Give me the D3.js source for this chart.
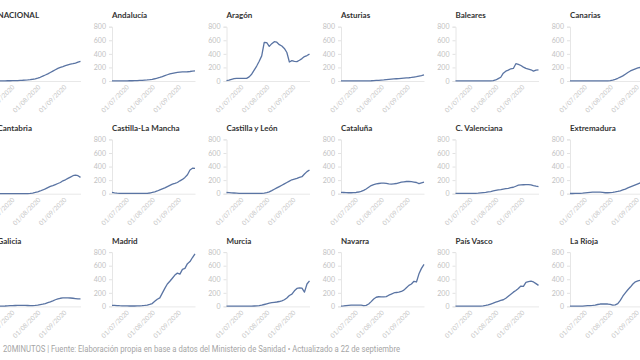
<!DOCTYPE html>
<html>
<head>
<meta charset="utf-8">
<script src="https://cdn.jsdelivr.net/npm/d3@7"></script>
<style>
body { margin: 0; background: #fff; overflow: hidden; }
svg { display: block; }
</style>
</head>
<body>
<svg id="chart" width="640" height="360"></svg>
<script>
// fechas de la serie (cada 3 dias)
const dates = ["2020-06-15","2020-06-18","2020-06-21","2020-06-24","2020-06-27","2020-06-30",
  "2020-07-03","2020-07-06","2020-07-09","2020-07-12","2020-07-15","2020-07-18","2020-07-21",
  "2020-07-24","2020-07-27","2020-07-30","2020-08-02","2020-08-05","2020-08-08","2020-08-11",
  "2020-08-14","2020-08-17","2020-08-20","2020-08-23","2020-08-26","2020-08-29","2020-09-01",
  "2020-09-04","2020-09-07","2020-09-10","2020-09-13","2020-09-16","2020-09-19","2020-09-22"]

const regions = ["NACIONAL","Andalucía","Aragón","Asturias","Baleares","Canarias",
  "Cantabria","Castilla-La Mancha","Castilla y León","Cataluña","C. Valenciana","Extremadura",
  "Galicia","Madrid","Murcia","Navarra","País Vasco","La Rioja"]

const nacional = [3,3,3,3,4,4,5,6,7,9,11,14,17,21,26,32,42,55,72,88,105,125,145,165,185,200,212,225,238,248,255,265,278,290]
const andalucia = [3,3,3,3,3,3,3,4,4,5,6,8,10,13,16,20,25,33,42,52,64,78,92,104,112,120,127,131,133,134,136,140,146,150]
const aragon = [5,12,25,35,38,40,40,38,38,60,100,160,220,290,370,570,565,510,550,580,572,535,515,480,420,280,300,290,285,305,330,360,375,395]
const asturias = [2,2,2,2,2,2,2,2,2,2,2,3,4,6,8,10,13,16,20,24,27,30,33,36,39,42,45,48,52,58,64,72,80,90]
const baleares = [3,3,3,3,3,3,3,3,3,3,3,3,3,3,3,6,15,35,55,115,145,160,180,185,255,245,228,205,185,175,165,145,160,165]
const canarias = [3,3,3,3,3,3,3,3,3,3,3,3,3,3,3,3,5,12,25,40,58,75,100,125,148,165,180,192,200,210,220,230,240,250]
const cantabria = [2,2,2,2,2,2,2,2,2,2,2,2,2,5,10,18,28,40,55,72,90,108,120,135,150,165,190,205,225,245,265,275,265,240]
const castillaLaMancha = [18,12,8,6,5,5,5,5,5,5,5,5,5,5,6,10,18,28,40,55,70,85,105,122,140,152,165,190,210,240,280,350,375,372]
const castillaLeon = [18,15,12,10,8,6,5,5,5,4,4,4,4,4,4,8,15,28,45,65,85,105,125,145,165,185,205,215,225,240,250,290,325,350]
const cataluna = [20,18,15,14,14,15,18,25,35,50,70,95,120,135,145,150,155,155,152,145,140,145,150,160,170,175,180,182,178,172,165,148,160,170]
const valenciana = [5,5,5,5,5,5,5,5,5,8,12,16,20,26,32,40,48,55,60,68,75,80,88,95,110,125,130,132,133,135,130,120,112,105]
const extremadura = [3,3,4,5,6,8,12,16,20,22,24,24,22,18,14,14,16,20,26,33,42,55,68,85,100,115,130,145,160,175,190,205,215,225]
const galicia = [4,4,5,6,8,10,12,13,14,15,15,14,13,12,12,14,18,25,32,42,55,68,82,98,110,120,125,126,126,124,120,115,110,112]
const madrid = [15,14,12,10,9,8,7,6,6,6,7,8,10,14,20,30,42,75,105,125,195,265,330,370,415,462,490,475,545,560,630,660,720,775]
const murcia = [3,3,3,3,3,3,3,3,3,3,4,6,8,12,18,28,38,48,55,60,65,72,82,98,125,160,180,230,265,272,270,210,330,375]
const navarra = [5,8,12,15,18,20,20,20,18,12,15,35,70,110,135,142,140,140,145,165,180,198,205,210,220,240,275,310,330,370,360,480,560,620]
const paisVasco = [5,5,5,5,5,5,5,5,5,5,5,8,14,22,35,48,62,75,88,98,120,150,180,210,235,265,300,295,355,365,372,360,335,310]
const laRioja = [3,3,3,4,4,5,8,10,12,15,20,28,35,36,35,35,30,18,22,40,90,150,200,245,285,330,362,375,385,395,405,415,425,435]

const series = [nacional, andalucia, aragon, asturias, baleares, canarias,
  cantabria, castillaLaMancha, castillaLeon, cataluna, valenciana, extremadura,
  galicia, madrid, murcia, navarra, paisVasco, laRioja]

const yTicks = [0, 200, 400, 600, 800]
const xTicks = ["2020-07-01", "2020-08-01", "2020-09-01"]
const footer = "20MINUTOS | Fuente: Elaboración propia en base a datos del Ministerio de Sanidad • Actualizado a 22 de septiembre"

const svg = d3.select("#chart")
const parse = d3.timeParse("%Y-%m-%d")

const cols = 6
const colStep = 114.5, col0 = -2.5
const rowStep = 112.7, row0 = 26.7
const plotW = 83, plotH = 54.3

const x = d3.scaleTime()
    .domain([parse(dates[0]), parse(dates[dates.length - 1])])
    .range([0, plotW])
const y = d3.scaleLinear().domain([0, 800]).range([plotH, 0])

const line = d3.line()
    .x(d => x(d.date))
    .y(d => y(d.value))

regions.forEach((name, i) => {
    const col = i % cols, row = Math.floor(i / cols)
    const g = svg.append("g")
        .attr("transform", `translate(${col0 + col * colStep}, ${row0 + row * rowStep})`)

    g.append("text")
        .attr("x", 0).attr("y", -8.5)
        .style("font-family", "Lato, 'Open Sans', sans-serif")
        .style("font-weight", "bold")
        .style("font-size", "8px")
        .style("fill", "#333")
        .text(name)

    const ya = g.append("g")
        .call(d3.axisLeft(y).tickValues(yTicks).tickSize(3).tickPadding(3))
    ya.select(".domain").attr("stroke", "#e6e6e6")
    ya.selectAll(".tick line").attr("stroke", "#e2e2e2")
    ya.selectAll("text")
        .style("font-family", "Lato, sans-serif")
        .style("font-size", "7px")
        .attr("fill", "#c2c2c2")

    const xa = g.append("g")
        .attr("transform", `translate(0, ${plotH})`)
        .call(d3.axisBottom(x)
            .tickValues(xTicks.map(parse))
            .tickFormat(d3.timeFormat("%d/%m/%Y"))
            .tickSize(0))
    xa.select(".domain").attr("stroke", "#e8e8e8")
    xa.selectAll("text")
        .attr("x", 0).attr("y", 0).attr("dy", "0.35em")
        .attr("transform", "translate(2, 5) rotate(-45)")
        .style("text-anchor", "end")
        .style("font-family", "Lato, sans-serif")
        .style("font-size", "6.5px")
        .attr("fill", "#c8c8c8")

    const data = dates.map((d, j) => ({ date: parse(d), value: series[i][j] }))
    g.append("path")
        .datum(data)
        .attr("fill", "none")
        .attr("stroke", "#5a74a3")
        .attr("stroke-width", 1.3)
        .attr("stroke-linejoin", "round")
        .attr("d", line)
})

svg.append("text")
    .attr("x", 3).attr("y", 352)
    .attr("textLength", 397)
    .attr("lengthAdjust", "spacingAndGlyphs")
    .style("font-family", "'Liberation Sans Narrow', Roboto, sans-serif")
    .style("font-size", "8.5px")
    .style("fill", "#a5a5a5")
    .text(footer)
</script>
</body>
</html>
